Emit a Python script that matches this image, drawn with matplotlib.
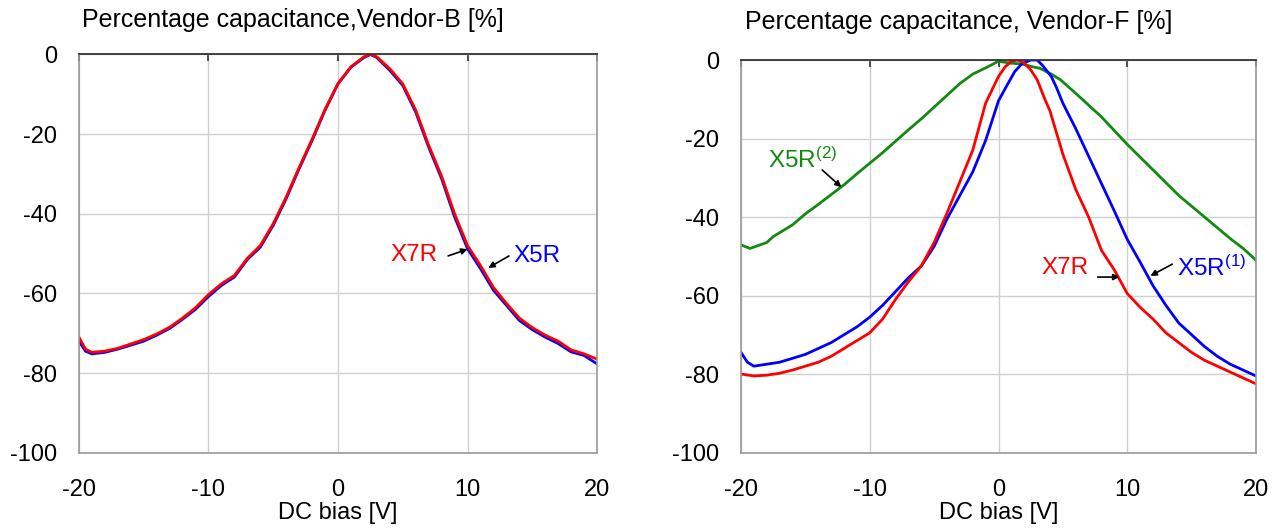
import matplotlib
matplotlib.use("Agg")
import matplotlib.pyplot as plt

plt.rcParams['font.family'] = ['Liberation Sans', 'DejaVu Sans']
plt.rcParams['mathtext.fontset'] = 'custom'
plt.rcParams['mathtext.rm'] = 'Liberation Sans'
plt.rcParams['mathtext.it'] = 'Liberation Sans'
plt.rcParams['axes.unicode_minus'] = False

# Vendor-B (left panel): DC bias [V] vs percentage capacitance [%]
vb_x = [-20, -19.5, -19, -18, -17, -16, -15, -14, -13, -12, -11, -10,
        -9, -8, -7, -6, -5, -4, -3, -2, -1, 0, 1, 2, 2.5, 3,
        4, 5, 6, 7, 8, 9, 10, 11, 12, 13, 14, 15, 16, 17, 18, 19, 20]
vb_x5r = [-72, -74.5, -75.2, -74.8, -74, -73, -72, -70.5, -68.8, -66.5, -64, -60.8,
          -58, -55.9, -51.5, -48.4, -42.9, -36.2, -28.7, -21.6, -14, -7.4, -3.2, -0.8, 0, -0.8,
          -4, -7.8, -14.5, -23.3, -31.2, -40.8, -48.8, -53.8, -59.2, -63, -66.8, -69.1, -71,
          -72.6, -74.7, -75.6, -77.7]
vb_x7r = [-71, -74, -74.8, -74.5, -73.8, -72.7, -71.6, -70.2, -68.5, -66.2, -63.6, -60.3,
          -57.6, -55.5, -51.2, -48, -42.5, -35.8, -28.4, -21.3, -13.8, -7.3, -3.1, -0.6, 0, -0.6,
          -3.6, -7.4, -14, -22.8, -30.6, -40, -48, -53, -58.5, -62.5, -66.2, -68.6, -70.5,
          -72, -74.2, -75.2, -76.5]

# Vendor-F (right panel)
vf_gx = [-20, -19.3, -18, -17.5, -16, -15, -14, -13, -12, -11, -10,
         -9, -8, -7, -6, -5, -4, -3, -2, -1,
         -0.4, 0, 0.9, 1.8, 2.6, 3.2, 4, 4.8,
         6, 8, 10, 12, 14, 16, 18, 19, 20]
vf_x5r2 = [-47.1, -48, -46.5, -45, -42, -39.2, -36.8, -34.3, -31.8, -29, -26.3,
           -23.6, -20.7, -17.8, -15, -12, -9, -6, -3.6, -2,
           -1, -0.3, -0.8, -1, -1.7, -2.1, -3.4, -5,
           -8.5, -14.5, -21.5, -28, -34.5, -40, -45.5, -48, -51]

vf_bx = [-20, -19.5, -19, -18, -17, -16, -15, -14, -13, -12, -11, -10,
         -9, -8, -7, -6, -5, -4, -3, -2, -1,
         0, 0.6, 1.25, 1.8, 2.5, 3, 3.4, 4.1, 4.5,
         5, 6, 7, 8, 9, 10, 11, 12, 13, 14, 15, 16, 17, 18, 19, 20]
vf_x5r1 = [-74.5, -77, -78, -77.5, -77, -76, -75, -73.5, -72, -70, -68, -65.5,
           -62.5, -59, -55.5, -52.5, -47.5, -40.5, -34.5, -28.5, -20.5,
           -10.4, -6.8, -3, -1, 0, 0, -1.3, -4.2, -7,
           -11, -17.5, -24.5, -31.5, -38.5, -45.7, -51.5, -57.5, -62.5, -67, -70, -73,
           -75.5, -77.5, -79, -80.5]

vf_rx = [-20, -19, -18, -17, -16, -15, -14, -13, -12, -11, -10,
         -9, -8, -7, -6, -5, -4, -3, -2, -1,
         0, 0.5, 1, 1.5, 2, 2.5, 3, 3.6, 4,
         5, 6, 7, 8, 9, 10, 11, 12, 13, 14, 15, 16, 17, 18, 19, 20]
vf_x7r = [-80, -80.5, -80.3, -79.8, -79, -78, -77, -75.5, -73.5, -71.5, -69.5,
          -66, -61, -56.5, -52.5, -46.5, -39, -31, -23, -11,
          -4.2, -1.8, -0.3, 0, -0.8, -2.5, -5, -10, -13,
          -24, -33, -40, -48.5, -53.5, -59.5, -63, -66, -69.5, -72, -74.5, -76.5,
          -78, -79.5, -81, -82.5]

BLUE = '#0000ff'
RED = '#ff0000'
GREEN = '#128a12'
FS = 17
FS_LABEL = 17.5


def style_axes(ax):
    ax.set_xlim(-20, 20)
    ax.set_ylim(-100, 0)
    ax.set_xticks([-20, -10, 0, 10, 20])
    ax.set_yticks([0, -20, -40, -60, -80, -100])
    ax.grid(True, color='#d0d0d0', lw=1)
    ax.set_axisbelow(True)
    ax.tick_params(axis='x', top=True, bottom=False, labeltop=False, labelbottom=True,
                   direction='in', length=5, color='#333333', width=1.2,
                   labelsize=FS, pad=19)
    ax.tick_params(axis='y', length=0, labelsize=FS, pad=15.5)
    ax.spines['top'].set_color('#333333')
    ax.spines['top'].set_linewidth(1.3)
    for s in ['left', 'right', 'bottom']:
        ax.spines[s].set_color('#999999')
        ax.spines[s].set_linewidth(1.2)
    ax.set_xlabel('DC bias [V]', fontsize=FS, labelpad=1)


def arrow(ax, tail, head):
    ax.annotate('', xy=head, xytext=tail,
                arrowprops=dict(arrowstyle='-|>', color='black', lw=1.2,
                                mutation_scale=9, shrinkA=0, shrinkB=0))


fig = plt.figure(figsize=(12.84, 5.31), dpi=100)
ax1 = fig.add_axes([0.0615, 0.1475, 0.4035, 0.75])
ax2 = fig.add_axes([0.5771, 0.1478, 0.4011, 0.7392])

# left panel
ax1.plot(vb_x, vb_x5r, color=BLUE, lw=2.0)
ax1.plot(vb_x, vb_x7r, color=RED, lw=2.0)
style_axes(ax1)
ax1.text(5.9, -50.4, 'X7R', color=RED, fontsize=FS_LABEL, ha='center', va='center')
arrow(ax1, (8.5, -50.6), (10.0, -48.9))
ax1.text(15.4, -50.6, 'X5R', color=BLUE, fontsize=FS_LABEL, ha='center', va='center')
arrow(ax1, (13.2, -50.6), (11.6, -53.6))

# right panel
ax2.plot(vf_gx, vf_x5r2, color=GREEN, lw=2.0)
ax2.plot(vf_bx, vf_x5r1, color=BLUE, lw=2.0)
ax2.plot(vf_rx, vf_x7r, color=RED, lw=2.0)
style_axes(ax2)
ax2.text(-17.9, -25.5, r'X5R$^{\mathregular{(2)}}$', color=GREEN, fontsize=FS_LABEL,
         ha='left', va='center')
arrow(ax2, (-13.7, -28.0), (-12.2, -32.4))
ax2.text(5.2, -53.0, 'X7R', color=RED, fontsize=FS_LABEL, ha='center', va='center')
arrow(ax2, (7.7, -55.3), (9.4, -55.3))
ax2.text(13.9, -53.0, r'X5R$^{\mathregular{(1)}}$', color=BLUE, fontsize=FS_LABEL,
         ha='left', va='center')
arrow(ax2, (13.5, -52.0), (11.8, -55.0))

fig.text(0.0639, 0.962, 'Percentage capacitance,Vendor-B [%]', fontsize=18,
         ha='left', va='center')
fig.text(0.580, 0.958, 'Percentage capacitance, Vendor-F [%]', fontsize=18,
         ha='left', va='center')

fig.savefig('out.png', dpi=100)
